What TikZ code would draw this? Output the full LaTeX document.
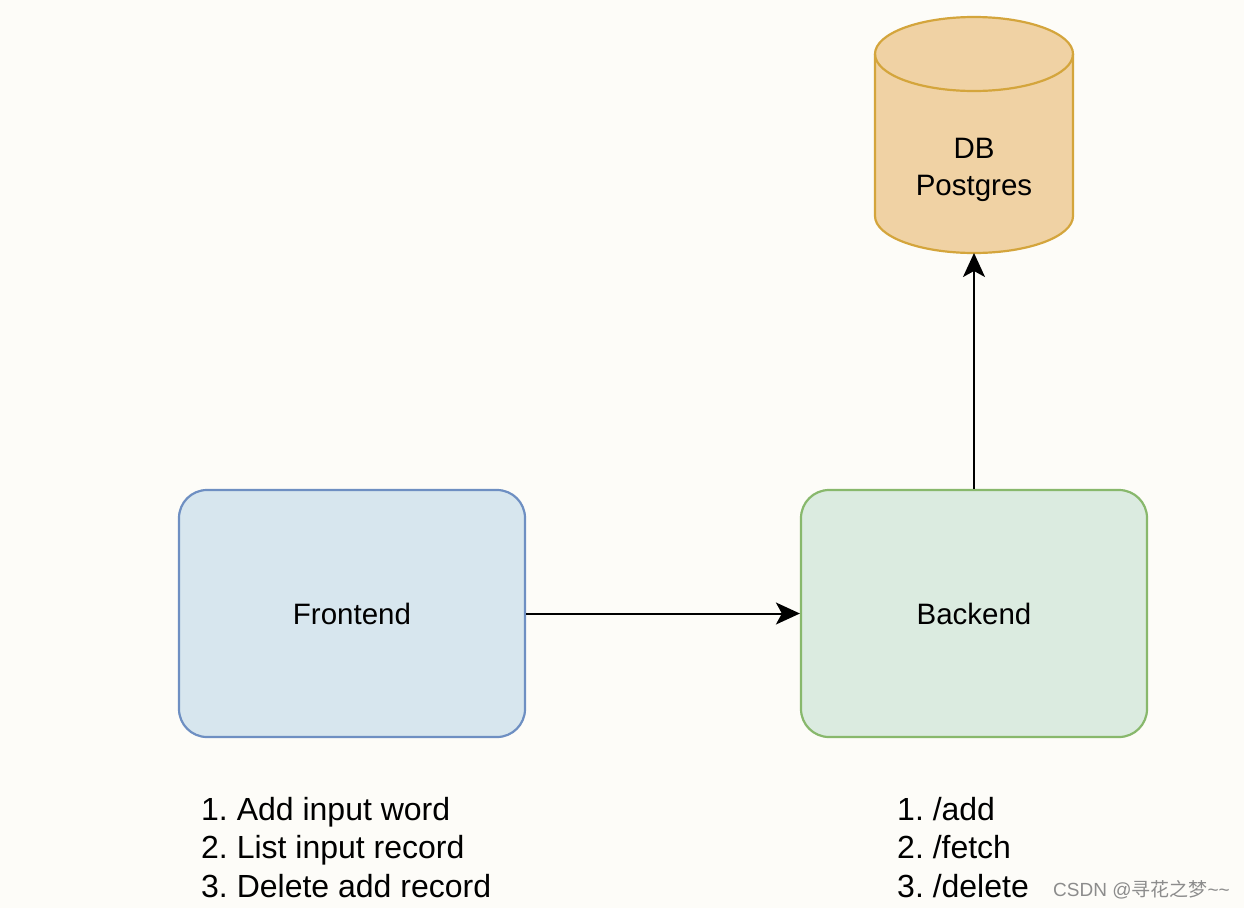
\documentclass[tikz,border=0pt]{standalone}
\usepackage{fontspec}
\setmainfont{Liberation Sans}
\newfontfamily\cjkfont{Noto Sans CJK SC}
\usetikzlibrary{arrows.meta}
\frenchspacing
\definecolor{bgc}{HTML}{FDFCF8}
\definecolor{feFill}{HTML}{D7E6EE}
\definecolor{feLine}{HTML}{6E8FC2}
\definecolor{beFill}{HTML}{DBEBE0}
\definecolor{beLine}{HTML}{88B86C}
\definecolor{dbFill}{HTML}{F0D2A4}
\definecolor{dbLine}{HTML}{D4A53C}
\tikzset{
  x=1pt,y=1pt,
  box/.style={rounded corners=28pt, line width=2.2pt, minimum width=346pt, minimum height=247pt, inner sep=0pt, font=\fontsize{29.5}{35}\selectfont},
  lbl/.style={inner sep=0pt, align=left, font=\fontsize{32}{38.5}\selectfont},
  conn/.style={line width=2pt, -{Stealth[length=24pt,width=22pt,inset=6pt]}},
}
\begin{document}
\begin{tikzpicture}
\fill[bgc] (0,0) rectangle (1244,-908);
\useasboundingbox (0,0) rectangle (1244,-908);
% cylinder
\path[fill=dbFill, draw=dbLine, line width=2.2pt]
  (875,-54) -- (875,-216) arc (180:360:99pt and 37pt) -- (1073,-54) arc (0:180:99pt and 37pt) -- cycle;
\draw[dbLine, line width=2.2pt] (875,-54) arc (180:360:99pt and 37pt);
\node[inner sep=0pt, align=center, font=\fontsize{29.5}{37.5}\selectfont] (db) at (974,-170) {DB\\Postgres};
\coordinate (dbbot) at (974,-253);
% boxes
\node[box, fill=feFill, draw=feLine] (fe) at (352,-613.5) {Frontend};
\node[box, fill=beFill, draw=beLine] (be) at (974,-613.5) {Backend};
% connectors
\draw[conn] (fe.east) -- (be.west);
\draw[conn] (be.north) -- (dbbot);
% lists
\node[lbl, anchor=north west] (felist) at (201,-797) {1. Add input word\\2. List input record\\3. Delete add record};
\node[lbl, anchor=north west] (belist) at (897,-797) {1. /add\\2. /fetch\\3. /delete};
% watermark
\node[inner sep=0pt, anchor=base east, text=black!45, font=\fontsize{19}{22}\selectfont] (wm) at (1230,-896) {CSDN @{\cjkfont 寻花之梦}\textasciitilde\textasciitilde};
\end{tikzpicture}
\end{document}
